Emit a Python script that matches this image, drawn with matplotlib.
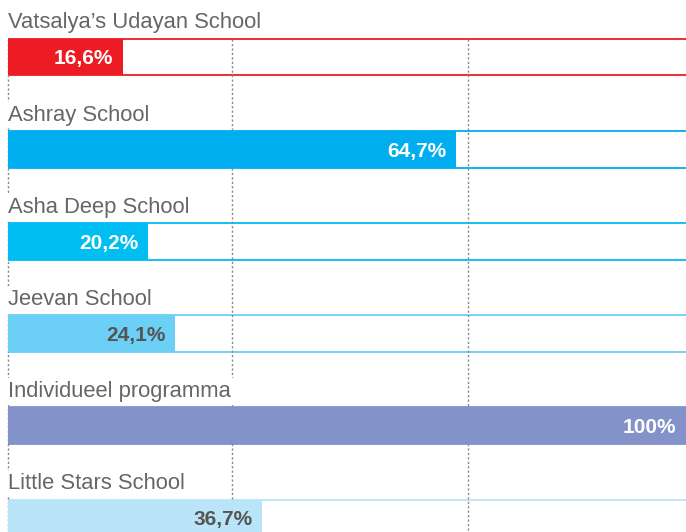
import matplotlib.pyplot as plt

schools = ["Vatsalya\u2019s Udayan School", "Ashray School", "Asha Deep School",
           "Jeevan School", "Individueel programma", "Little Stars School"]
values = [16.6, 64.7, 20.2, 24.1, 100, 36.7]
value_labels = ["16,6%", "64,7%", "20,2%", "24,1%", "100%", "36,7%"]
colors = ["#ED1C24", "#00AEEF", "#00BDF2", "#6CCFF6", "#8393C9", "#BAE5F9"]
text_colors = ["white", "white", "white", "#555555", "white", "#555555"]
grid_x = [0, 32.3, 66.4]

fig = plt.figure(figsize=(6.86, 5.32), dpi=100)
ax = fig.add_axes([0, 0, 1, 1])
ax.axis('off')

# axis scaled so that 100% runs a bit past the right edge (as in the original)
ax.set_xlim(-8 / 6.93, 678 / 6.93)
ax.set_ylim(5.152, -0.618)

bar_h = 0.4
rows = range(len(schools))

# white track with coloured rules at top and bottom
for i in rows:
    ax.hlines([i - bar_h / 2, i + bar_h / 2], 0, 200, colors=colors[i], lw=1.3, zorder=1)

ax.vlines(grid_x, -bar_h / 2, 6, colors="#8a8a8a", lw=1, linestyles=(0, (1.6, 1.6)), zorder=2)

ax.barh(list(rows), values, height=bar_h, color=colors, zorder=3)

xmax = ax.get_xlim()[1]
for i in rows:
    ax.text(0, i - bar_h / 2 - 0.11, schools[i], fontsize=15.8, color="#666666",
            family="Liberation Sans", va="baseline", ha="left", zorder=4,
            bbox=dict(facecolor="white", edgecolor="none", pad=2))
    ax.annotate(value_labels[i], (min(values[i], xmax), i), xytext=(-7, 0),
                textcoords="offset points", ha="right", va="center_baseline",
                fontsize=15, fontweight="bold", color=text_colors[i],
                family="Liberation Sans", zorder=5)

fig.savefig("out.png", dpi=100)
